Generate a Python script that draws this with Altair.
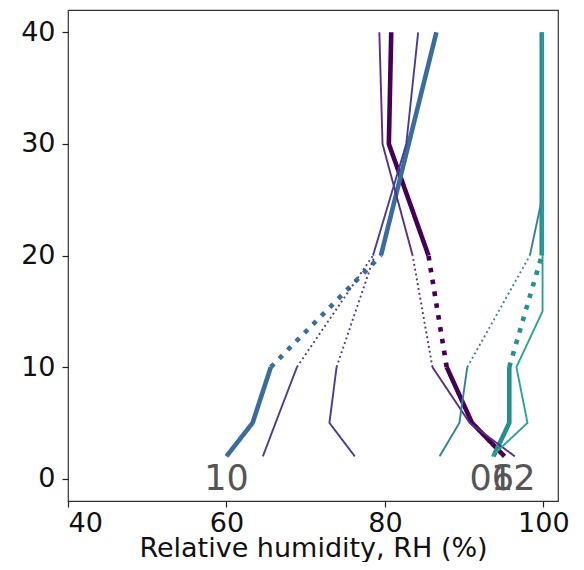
import altair as alt
import pandas as pd

# ---- data ----
heights_std = [2, 5, 10, 20, 30, 40]

s1_h = heights_std
s1_rh = [95.1, 91.0, 87.8, 85.5, 80.5, 80.8]          # thick purple
s2_h = heights_std
s2_rh = [60.0, 63.3, 65.6, 79.5, 83.0, 86.5]          # thick blue
s3_h = heights_std
s3_rh = [93.7, 95.7, 95.7, 99.8, 99.8, 99.8]          # thick teal
s4_h = heights_std
s4_rh = [96.4, 90.7, 86.0, 83.5, 79.7, 79.3]          # thin purple
s5_h = heights_std
s5_rh = [64.6, 66.2, 68.9, 78.5, 82.7, 84.2]          # thin indigo A
s6_h = [2, 5, 10, 20]
s6_rh = [76.2, 73.0, 73.9, 78.7]                      # thin indigo B
s7_h = [2, 5, 10, 20, 25, 30, 40]
s7_rh = [86.9, 89.4, 90.4, 98.3, 99.8, 99.8, 99.8]    # thin teal-blue
s8_h = [2, 5, 10, 15, 20, 30, 40]
s8_rh = [93.5, 98.0, 96.6, 99.9, 99.9, 99.9, 99.9]    # thin light teal (all solid)

series_names = ["s1", "s2", "s3", "s4", "s5", "s6", "s7", "s8"]
series_colors = ["#440154", "#3a6c9c", "#248f8f", "#55307f",
                 "#463f8f", "#4a3a90", "#347fa0", "#2ba294"]
series_weight = ["thick", "thick", "thick", "thin", "thin", "thin", "thin", "thin"]
series_gap = [True, True, True, True, True, True, True, False]
series_h = [s1_h, s2_h, s3_h, s4_h, s5_h, s6_h, s7_h, s8_h]
series_rh = [s1_rh, s2_rh, s3_rh, s4_rh, s5_rh, s6_rh, s7_rh, s8_rh]

label_text = ["10", "06", "12"]
label_x = [60.0, 93.5, 96.2]
label_y = [0, 0, 0]

# ---- build long table ----
rows = []
for name, w, gap, hs, rhs in zip(series_names, series_weight, series_gap, series_h, series_rh):
    if gap:
        parts = [("lo", lambda h: h <= 10, "solid"),
                 ("gap", lambda h: 10 <= h <= 20, "dot_" + w),
                 ("hi", lambda h: h >= 20, "solid")]
    else:
        parts = [("all", lambda h: True, "solid")]
    for pname, cond, style in parts:
        for h, r in zip(hs, rhs):
            if cond(h):
                rows.append({"series": name, "weight": w, "style": style,
                             "seg": name + "_" + pname, "h": h, "rh": r})
df = pd.DataFrame(rows)
labels = pd.DataFrame({"t": label_text, "x": label_x, "y": label_y})

xscale = alt.Scale(domain=[40, 101.85], nice=False, zero=False)
yscale = alt.Scale(domain=[-2, 42], nice=False, zero=False)

lines = alt.Chart(df).mark_line(strokeJoin="round").encode(
    x=alt.X("rh:Q", scale=xscale,
            axis=alt.Axis(values=[40, 60, 80, 100], title="Relative humidity, RH (%)",
                          titleY=55, titleBaseline="alphabetic")),
    y=alt.Y("h:Q", scale=yscale, axis=alt.Axis(values=[0, 10, 20, 30, 40], title=None)),
    color=alt.Color("series:N", scale=alt.Scale(domain=series_names, range=series_colors), legend=None),
    strokeWidth=alt.StrokeWidth("weight:N", scale=alt.Scale(domain=["thick", "thin"], range=[4.6, 1.9]), legend=None),
    strokeDash=alt.StrokeDash("style:N", scale=alt.Scale(domain=["solid", "dot_thick", "dot_thin"],
                                                         range=[[1, 0], [4.6, 7.4], [1.9, 3.0]]), legend=None),
    detail="seg:N",
    order=alt.Order("h:Q"),
)

text = alt.Chart(labels).mark_text(fontSize=35, color="#555555", baseline="middle", align="center",
                                   font="DejaVu Sans").encode(
    x=alt.X("x:Q", scale=xscale),
    y=alt.Y("y:Q", scale=yscale),
    text="t:N",
)

chart = alt.layer(lines, text).properties(
    width=490, height=491,
    autosize=alt.AutoSizeParams(type="none"),
    padding={"left": 60, "top": 2, "right": 16, "bottom": 61},
).configure_view(stroke="#333333", strokeWidth=1.2).configure_axis(
    grid=False, domain=False, tickColor="#222222", tickSize=6, tickWidth=1.2,
    labelFont="DejaVu Sans", labelFontSize=27, labelColor="#111111",
    titleFont="DejaVu Sans", titleFontSize=27, titleFontWeight="normal", titleColor="#111111",
).configure_axisX(labelPadding=3).configure_axisY(labelPadding=7)

chart.save("out.html", embed_options={"renderer": "svg", "actions": False})
